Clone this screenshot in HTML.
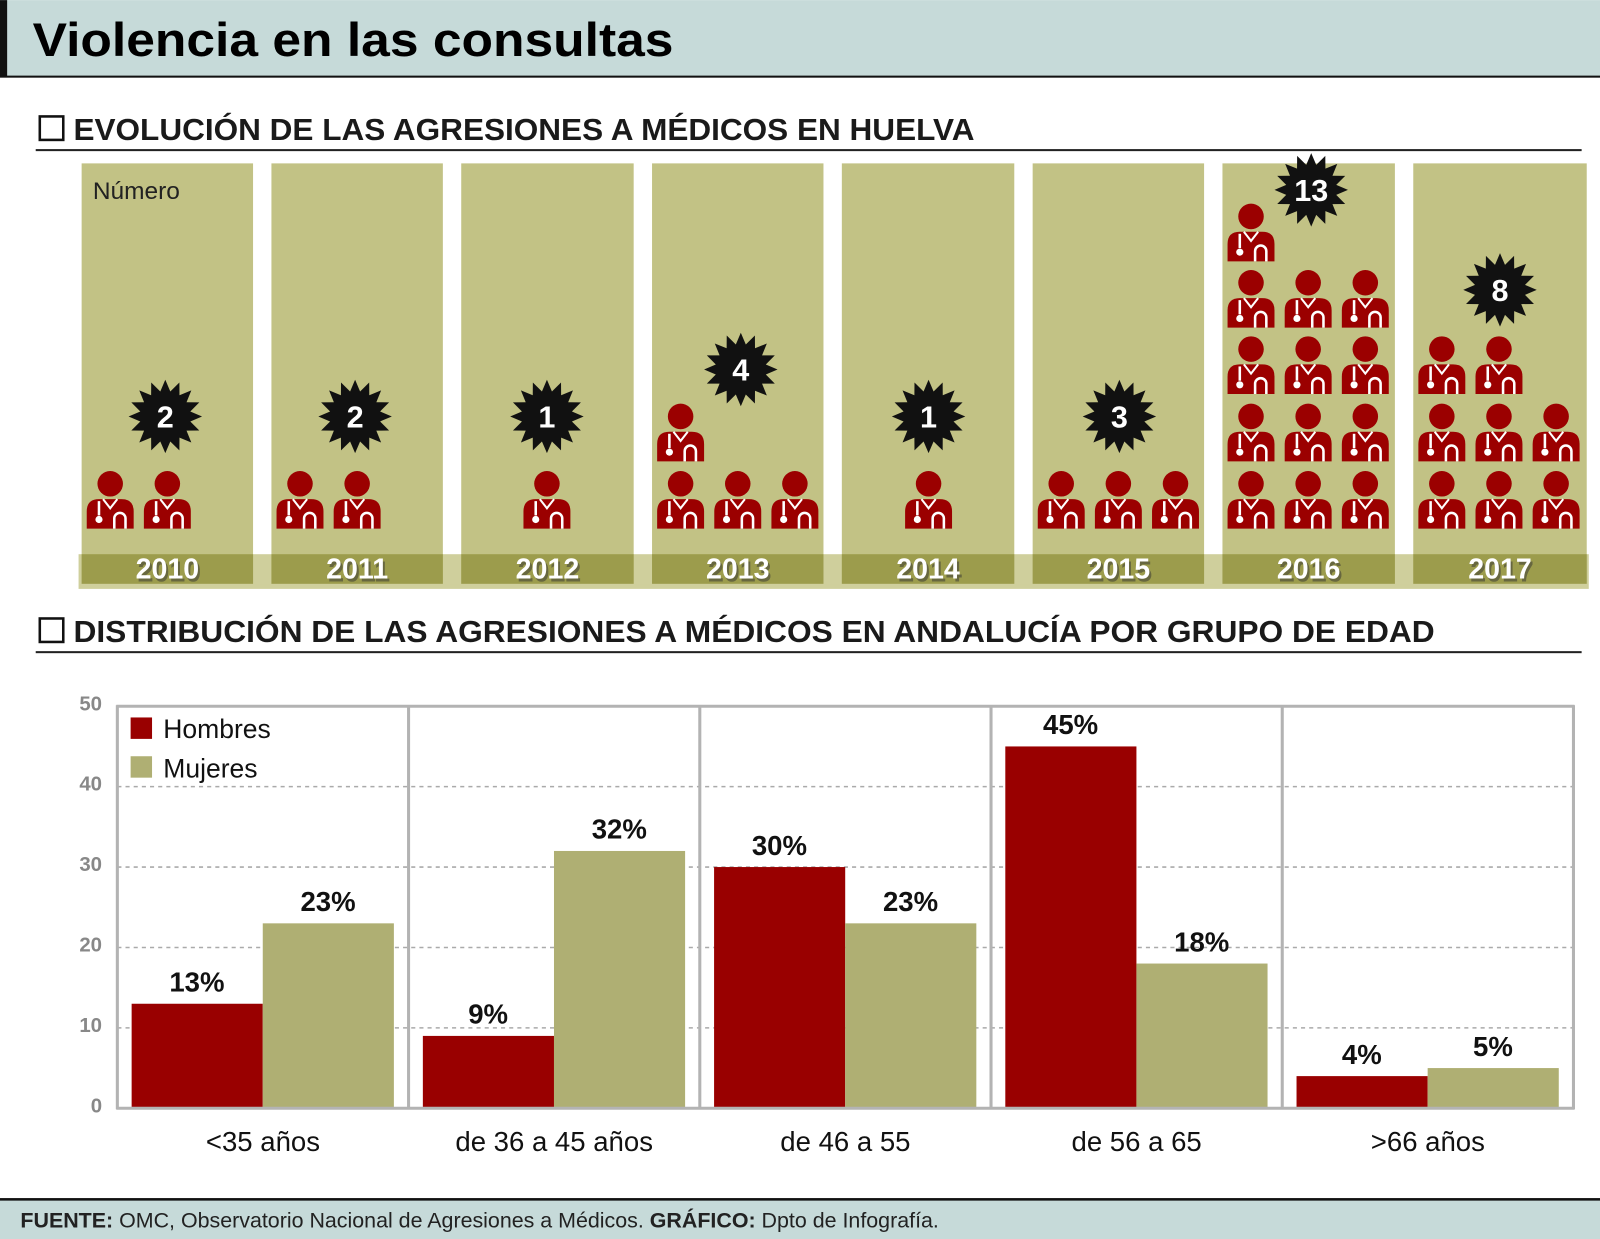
<!DOCTYPE html>
<html><head><meta charset="utf-8"><style>html,body{margin:0;padding:0;background:#fff}svg{display:block}</style></head>
<body>
<svg id="s" xmlns="http://www.w3.org/2000/svg" width="1600" height="1239" viewBox="0 0 1568 1214" font-family="'Liberation Sans', sans-serif">
<rect x="0" y="0" width="1568" height="75" fill="#c6dad9"/>
<rect x="0" y="0" width="7" height="75" fill="#111"/>
<rect x="0" y="74" width="1568" height="2" fill="#111"/>
<text x="32" y="55" font-size="46" font-weight="bold" textLength="628" lengthAdjust="spacingAndGlyphs">Violencia en las consultas</text>

<rect x="39" y="114" width="23" height="23" fill="none" stroke="#111" stroke-width="2.5"/>
<text x="72" y="137" font-size="30" font-weight="bold" fill="#1a1a1a" textLength="883" lengthAdjust="spacingAndGlyphs">EVOLUCIÓN DE LAS AGRESIONES A MÉDICOS EN HUELVA</text>
<rect x="35" y="146" width="1515" height="2" fill="#222"/>

<g id="topg"></g>

<rect x="39" y="606" width="23" height="23" fill="none" stroke="#111" stroke-width="2.5"/>
<text x="72" y="629" font-size="30" font-weight="bold" fill="#1a1a1a" textLength="1334" lengthAdjust="spacingAndGlyphs">DISTRIBUCIÓN DE LAS AGRESIONES A MÉDICOS EN ANDALUCÍA POR GRUPO DE EDAD</text>
<rect x="35" y="638" width="1515" height="2" fill="#222"/>

<g id="chartg"></g>

<rect x="0" y="1175" width="1568" height="40" fill="#c6dad9"/>
<rect x="0" y="1174" width="1568" height="2.5" fill="#111"/>
<text x="20" y="1203" font-size="21" fill="#222"><tspan font-weight="bold">FUENTE:</tspan> OMC, Observatorio Nacional de Agresiones a Médicos. <tspan font-weight="bold">GRÁFICO:</tspan> Dpto de Infografía.</text>
</svg>
<script>
(function(){
var NS="http://www.w3.org/2000/svg";
function el(p,t,a,txt){var e=document.createElementNS(NS,t);for(var k in a)e.setAttribute(k,a[k]);if(txt!==undefined)e.textContent=String(txt);p.appendChild(e);return e;}
var tg=document.getElementById('topg');
var px=[80,266,452,639,825,1012,1198,1385],pw=[168,168,169,168,169,168,169,170];
var years=[2010,2011,2012,2013,2014,2015,2016,2017];
el(tg,'rect',{x:77,y:543,width:1480,height:34,fill:'#cfcf9c'});
for(var i=0;i<8;i++){
 el(tg,'rect',{x:px[i],y:160,width:pw[i],height:412,fill:'#c2c285'});
 el(tg,'rect',{x:px[i],y:543,width:pw[i],height:29,fill:'#9c9c4c'});
 el(tg,'text',{x:px[i]+pw[i]/2+2,y:570,'font-size':28,'font-weight':'bold',fill:'#333','text-anchor':'middle',opacity:0.5},years[i]);
 el(tg,'text',{x:px[i]+pw[i]/2,y:567,'font-size':28,'font-weight':'bold',fill:'#fff','text-anchor':'middle'},years[i]);
}
el(tg,'text',{x:91,y:195,'font-size':24,fill:'#222'},'Número');
function doc(cx,cy){
 var g=el(tg,'g',{transform:'translate('+cx+','+cy+')'});
 el(g,'circle',{cx:0,cy:0,r:12.5,fill:'#9b0000'});
 el(g,'path',{d:'M-23,44 L-23,27 Q-23,15 -11,15 L11,15 Q23,15 23,27 L23,44 Z',fill:'#9b0000'});
 el(g,'path',{d:'M-7,15 L0,24 L7,15',fill:'none',stroke:'#fff','stroke-width':2});
 el(g,'path',{d:'M-11,17 L-11,31',fill:'none',stroke:'#fff','stroke-width':2.5});
 el(g,'circle',{cx:-11,cy:35,r:3.5,fill:'#fff'});
 el(g,'path',{d:'M4,44 L4,34 A5.5,5.5 0 0 1 15,34 L15,44',fill:'none',stroke:'#fff','stroke-width':2.5});
}
var rows=[474,408,342,277,212];
function place(i,counts){for(var r=0;r<counts.length;r++)for(var c=0;c<counts[r];c++)doc(px[i]+28+56*c,rows[r]);}
place(0,[2]);place(1,[2]);doc(536,474);place(3,[3,1]);doc(910,474);place(5,[3]);place(6,[3,3,3,3,1]);place(7,[3,3,2]);
function star(cx,cy,n){
 var pts=[];for(var k=0;k<32;k++){var r=k%2?25:36;var a=Math.PI*2*k/32-Math.PI/2;pts.push((cx+r*Math.cos(a)).toFixed(1)+','+(cy+r*Math.sin(a)).toFixed(1));}
 el(tg,'polygon',{points:pts.join(' '),fill:'#111'});
 el(tg,'text',{x:cx,y:cy+11,'font-size':30,'font-weight':'bold',fill:'#fff','text-anchor':'middle'},n);
}
star(162,408,2);star(348,408,2);star(536,408,1);star(726,362,4);star(910,408,1);star(1097,408,3);star(1285,186,13);star(1470,284,8);

var ch=document.getElementById('chartg');
var x0=115,x1=1542,y0=1086,sc=7.88,gw=(x1-x0)/5;
for(var v=10;v<=40;v+=10){var y=y0-v*sc;el(ch,'line',{x1:x0,x2:x1,y1:y,y2:y,stroke:'#aaa','stroke-width':1.5,'stroke-dasharray':'4,4'});}
for(var v=0;v<=50;v+=10){el(ch,'text',{x:100,y:y0-v*sc+4,'font-size':20,'font-weight':'bold',fill:'#888','text-anchor':'end'},v);}
var data=[[13,23],[9,32],[30,23],[45,18],[4,5]];
var labs=['<35 años','de 36 a 45 años','de 46 a 55','de 56 a 65','>66 años'];
for(var g=0;g<5;g++){
 var gx=x0+g*gw;
 for(var b=0;b<2;b++){
  var v=data[g][b],bx=gx+14+b*128.5,h=v*sc;
  el(ch,'rect',{x:bx,y:y0-h,width:128.5,height:h,fill:b?'#afaf73':'#990000'});
  el(ch,'text',{x:bx+64,y:y0-h-12,'font-size':27,'font-weight':'bold',fill:'#111','text-anchor':'middle'},v+'%');
 }
 el(ch,'text',{x:gx+gw/2,y:1128,'font-size':27,fill:'#111','text-anchor':'middle'},labs[g]);
}
for(var g=0;g<=5;g++){var gx=x0+g*gw;el(ch,'line',{x1:gx,x2:gx,y1:691,y2:y0+1,stroke:'#b3b3b3','stroke-width':3});}
el(ch,'line',{x1:x0-1,x2:x1+1,y1:692,y2:692,stroke:'#b3b3b3','stroke-width':3});
el(ch,'line',{x1:x0-1,x2:x1+1,y1:y0,y2:y0,stroke:'#b3b3b3','stroke-width':3});
el(ch,'rect',{x:128,y:703,width:21,height:21,fill:'#990000'});
el(ch,'rect',{x:128,y:741,width:21,height:21,fill:'#afaf73'});
el(ch,'text',{x:160,y:723,'font-size':26,fill:'#111'},'Hombres');
el(ch,'text',{x:160,y:762,'font-size':26,fill:'#111'},'Mujeres');
})();
</script>
</body></html>
